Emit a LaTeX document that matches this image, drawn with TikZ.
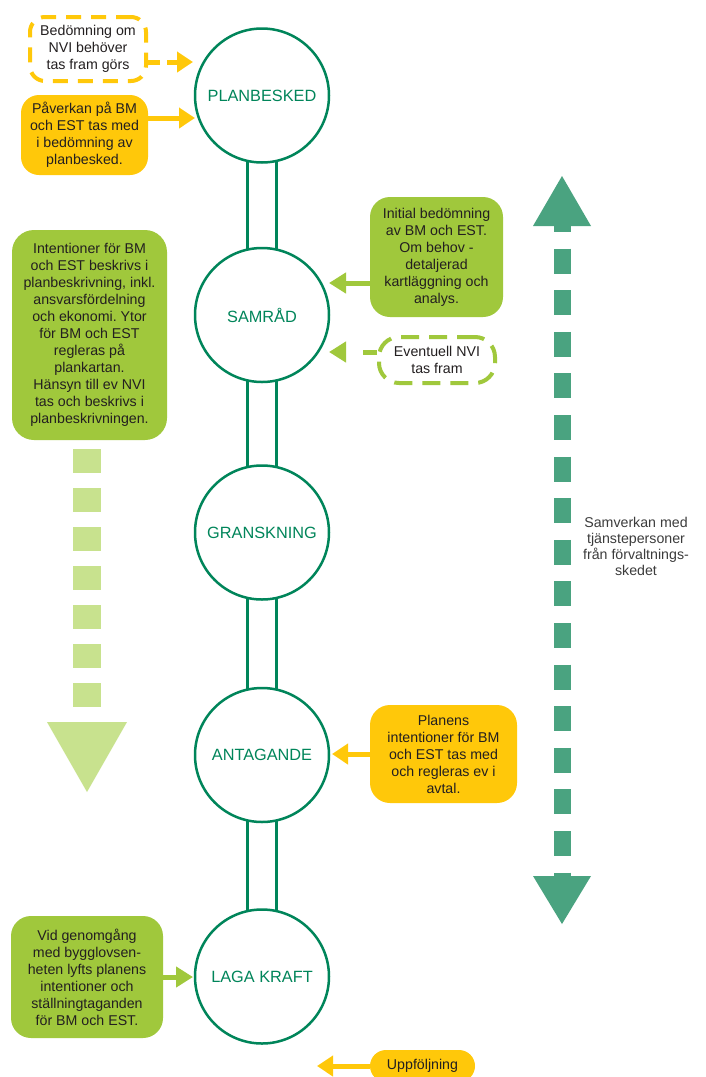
\documentclass[tikz,border=0pt]{standalone}
\usepackage{fontspec}
\setmainfont{Liberation Sans}
\usetikzlibrary{arrows.meta}
\usetikzlibrary{backgrounds}
\frenchspacing
\definecolor{phasegreen}{RGB}{0,133,90}
\definecolor{boxyellow}{RGB}{255,200,10}
\definecolor{boxgreen}{RGB}{160,200,60}
\definecolor{palegreen}{RGB}{200,226,142}
\definecolor{samteal}{RGB}{74,163,128}
\definecolor{boxtext}{RGB}{35,31,32}
\definecolor{sidetext}{RGB}{60,60,60}
\tikzset{phase/.style = {circle, draw=phasegreen, line width=2.5pt, fill=white,
                         minimum size=134pt, inner sep=0pt, outer sep=0pt,
                         text=phasegreen, font=\fontsize{16.3}{19}\selectfont}}
\tikzset{
infobox/.style = {rounded corners=18pt, align=center, inner sep=0pt, text=boxtext,
                  font=\fontsize{14.2}{17}\selectfont},
yellowbox/.style = {infobox, fill=boxyellow},
greenbox/.style = {infobox, fill=boxgreen, rounded corners=20pt},
yellowdash/.style = {infobox, fill=white, draw=boxyellow, line width=4pt,
                     dash pattern=on 15pt off 10pt, rounded corners=15pt},
greendash/.style = {infobox, fill=white, draw=boxgreen, line width=4pt,
                    dash pattern=on 18pt off 10pt, rounded corners=20pt},
yarrow/.style = {draw=boxyellow, line width=5pt, -{Triangle[length=16pt,width=20pt]}},
garrow/.style = {draw=boxgreen, line width=5pt, -{Triangle[length=17pt,width=20pt]}},
link/.style = {draw=phasegreen, line width=2.5pt},
}

\begin{document}
\begin{tikzpicture}[x=1pt,y=-1pt]
			\useasboundingbox (0,0) rectangle (705,1077);
			\node[phase] (plan) at (262,95.5) {PLANBESKED};
			\node[phase] (samrad) at (262,315) {SAMRÅD};
			\node[phase] (gransk) at (262,532.5) {GRANSKNING};
			\node[phase] (antag) at (262,755) {ANTAGANDE};
			\node[phase] (laga) at (262,976.5) {LAGA KRAFT};
			\begin{scope}[on background layer]
				\fill[white] (0,0) rectangle (705,1077);
				\foreach \p/\q in {plan/samrad, samrad/gransk, gransk/antag, antag/laga}
					\draw[link] ([xshift=-14.5pt]\p.center) rectangle ([xshift=14.5pt]\q.center);
			\end{scope}
			\node[yellowdash, minimum width=116pt, minimum height=64pt] (nvi) at (88,49) {Bedömning om\\NVI behöver\\tas fram görs};
			\node[yellowbox, minimum width=127pt, minimum height=80pt] (pav) at (84.5,135) {Påverkan på BM\\och EST tas med\\i bedömning av\\planbesked.};
			\node[greenbox, minimum width=133pt, minimum height=120pt] (init) at (436.5,257) {Initial bedömning\\av BM och EST.\\Om behov -\\detaljerad\\kartläggning och\\analys.};
			\node[greendash, minimum width=116pt, minimum height=46pt] (evt) at (437,360) {Eventuell NVI\\tas fram};
			\node[greenbox, minimum width=155pt, minimum height=210pt, rounded corners=22pt] (intent) at (89.5,335) {Intentioner för BM\\och EST beskrivs i\\planbeskrivning, inkl.\\ansvarsfördelning\\och ekonomi. Ytor\\för BM och EST\\regleras på\\plankartan.\\Hänsyn till ev NVI\\tas och beskrivs i\\planbeskrivningen.};
			\node[yellowbox, minimum width=147pt, minimum height=98pt, rounded corners=20pt] (avtal) at (443.5,754) {Planens\\intentioner för BM\\och EST tas med\\och regleras ev i\\avtal.};
			\node[greenbox, minimum width=152pt, minimum height=122pt] (vid) at (87,977) {Vid genomgång\\med bygglovsen-\\heten lyfts planens\\intentioner och\\ställningtaganden\\för BM och EST.};
			\node[yellowbox, minimum width=105pt, minimum height=32pt, rounded corners=16pt] (upp) at (422.5,1066) {Uppföljning};
			\node[text=sidetext, align=center, font=\fontsize{14.2}{16}\selectfont] (samverkan) at (636,546) {Samverkan med\\tjänstepersoner\\från förvaltnings-\\skedet};
			\coordinate (uppend) at (317,1066);
			\coordinate (samtop) at (562,176);
			\coordinate (sambot) at (562,924);
			\coordinate (bmtip) at (87,792);
			\draw [yarrow, dash pattern=on 12pt off 7pt, shorten >=2pt] ([yshift=-13pt]nvi.east) to ([yshift=-13pt]nvi.east -| plan.west);
			\draw [yarrow] ([yshift=17pt]pav.east) to ([yshift=17pt]pav.east -| plan.west);
			\draw [garrow] ([yshift=-26pt]init.west) to ([yshift=-26pt]init.west -| samrad.east);
			\draw [garrow, dash pattern=on 14pt off 19pt] ([yshift=8pt]evt.west) to ([yshift=8pt]evt.west -| samrad.east);
			\draw [yarrow, shorten >=3pt] (avtal.west) to (avtal.west -| antag.east);
			\draw [garrow, shorten >=2pt] (vid.east) to (vid.east -| laga.west);
			\draw [yarrow] (upp.west) to (uppend);
			\draw [palegreen, line width=28pt, dash pattern=on 24pt off 15pt, dash phase=30pt,
			       -{Triangle[length=70pt,width=80pt,line width=0pt]}] (intent.south -| bmtip) to (bmtip);
			\draw [samteal, line width=17pt, dash pattern=on 25pt off 16.6pt, dash phase=19pt,
			       {Triangle[length=50pt,width=58pt,line width=0pt]}-{Triangle[length=48pt,width=58pt,line width=0pt]}] (samtop) to (sambot);
		\end{tikzpicture}
\end{document}
